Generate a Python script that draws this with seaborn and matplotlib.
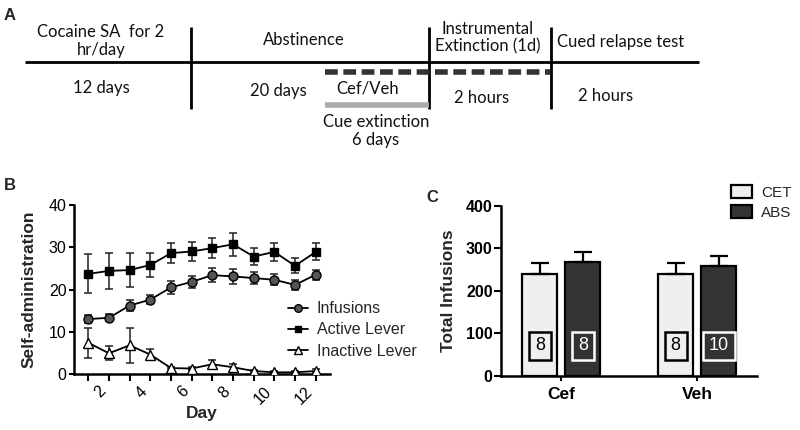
import matplotlib
matplotlib.use("Agg")
import matplotlib.pyplot as plt
import seaborn as sns
import pandas as pd
from matplotlib.lines import Line2D
from matplotlib.patches import Patch

sns.set_theme(style="ticks")
plt.rcParams['font.family'] = ['Liberation Sans', 'DejaVu Sans']

# ---------------- data ----------------
# Panel A: timeline texts
timeline_texts = ["Cocaine SA  for 2\nhr/day", "12 days", "Abstinence", "20 days",
                  "Cef/Veh", "Cue extinction\n6 days", "Instrumental\nExtinction (1d)",
                  "2 hours", "Cued relapse test", "2 hours"]

# Panel B: self-administration
days = list(range(1, 13))
infusions = [13.0, 13.3, 16.2, 17.6, 20.5, 21.8, 23.4, 23.1, 22.7, 22.3, 21.1, 23.5]
infusions_sem = [0.9, 0.8, 1.2, 1.1, 1.6, 1.5, 1.7, 1.7, 1.5, 1.3, 1.1, 1.2]
active = [23.7, 24.4, 24.6, 25.8, 28.6, 29.0, 29.8, 30.7, 27.8, 28.9, 25.6, 28.9]
active_sem = [4.6, 4.3, 4.1, 2.8, 2.4, 2.2, 2.35, 2.7, 2.1, 2.2, 1.8, 2.0]
inactive = [7.4, 4.9, 6.8, 4.6, 1.4, 1.3, 2.3, 1.6, 0.7, 0.4, 0.4, 0.7]
inactive_sem = [3.5, 1.7, 4.1, 1.3, 0.3, 0.3, 1.1, 0.7, 0.3, 0.2, 0.2, 0.4]
series_names = ["Infusions", "Active Lever", "Inactive Lever"]
day_ticks = [2, 4, 6, 8, 10, 12]
yticks_b = [0, 10, 20, 30, 40]

# Panel C: total infusions
groups = ["Cef", "Veh"]
conditions = ["CET", "ABS"]
cet_total = [239, 239]
abs_total = [268, 259]
cet_sem = [26, 26]
abs_sem = [24, 22]
cet_n = [8, 8]
abs_n = [8, 10]
yticks_c = [0, 100, 200, 300, 400]

# ---------------- figure ----------------
fig = plt.figure(figsize=(8, 4.3), dpi=100)

# ---- Panel A: schematic in pixel coordinates ----
axa = fig.add_axes([0, 0, 1, 1])
axa.set_xlim(0, 800)
axa.set_ylim(430, 0)
axa.set_axis_off()
axa.patch.set_visible(False)

fa = dict(family=['Lato', 'DejaVu Sans'], fontsize=12, color='#111111', ha='center', va='center')
axa.plot([25, 699], [62, 62], color='black', lw=2, solid_capstyle='butt')
for xv in [191, 429, 551]:
    axa.plot([xv, xv], [27, 109], color='black', lw=2, solid_capstyle='butt')
axa.plot([325, 550], [72, 72], color='#333333', lw=4, dashes=(2.3, 1.0), solid_capstyle='butt')
axa.plot([325, 429], [105, 105], color='#aaaaaa', lw=4, solid_capstyle='butt')
text_pos = [(101, 41), (101, 88), (304, 40), (278, 91), (368, 88), (376, 131),
            (488, 38), (482, 98), (621, 42), (606, 96)]
for t, (xp, yp) in zip(timeline_texts, text_pos):
    axa.text(xp, yp, t, linespacing=1.1, **fa)
axa.text(4, 16, "A", fontsize=12, fontweight='bold', ha='left', va='center',
         family=['Liberation Sans', 'DejaVu Sans'])
axa.text(4, 186, "B", fontsize=12, fontweight='bold', ha='left', va='center')
axa.text(426, 198, "C", fontsize=12, fontweight='bold', ha='left', va='center')

# ---- Panel B ----
axb = fig.add_axes([74 / 800, 56 / 430, 256 / 800, 169 / 430])
series = [
    (infusions, infusions_sem, 'o', '#555555', 6.5),
    (active, active_sem, 's', 'black', 5.5),
    (inactive, inactive_sem, '^', 'white', 6.5),
]
handles = []
for (vals, sem, mk, fc, ms), name in zip(series, series_names):
    df = pd.DataFrame({"day": days, "value": vals})
    axb.errorbar(days, vals, yerr=sem, fmt='none', ecolor='#222222', elinewidth=1.1,
                 capsize=3, capthick=1.1, zorder=2)
    sns.lineplot(data=df, x="day", y="value", ax=axb, color='black', lw=1.3,
                 marker=mk, markersize=ms, markerfacecolor=fc, markeredgecolor='black',
                 markeredgewidth=1.0, zorder=3, legend=False)
    handles.append(Line2D([], [], color='black', lw=1.3, marker=mk, markersize=ms - 1,
                          markerfacecolor=fc, markeredgecolor='black', markeredgewidth=1.0))
axb.set_xlim(0.31, 12.69)
axb.set_ylim(0, 40)
axb.set_xticks(days)
axb.set_xticklabels([str(d) if d in day_ticks else "" for d in days], rotation=45, ha='right')
axb.set_yticks(yticks_b)
axb.tick_params(axis='y', labelsize=11.5, length=3.8, width=1.5, pad=1.5, colors='black')
axb.tick_params(axis='x', labelsize=11.5, length=5, width=1.5, pad=2, colors='black')
for s in ['top', 'right']:
    axb.spines[s].set_visible(False)
for s in ['left', 'bottom']:
    axb.spines[s].set_linewidth(1.8)
    axb.spines[s].set_color('black')
axb.set_xlabel("Day", fontsize=12.5, fontweight='bold')
axb.set_ylabel("Self-administration", fontsize=12.5, fontweight='bold')
axb.xaxis.set_label_coords(0.5, -0.19)
axb.yaxis.set_label_coords(-0.145, 0.5)
fig.legend(handles, series_names, loc='center left', bbox_to_anchor=(288 / 800, 1 - 330 / 430),
           frameon=False, fontsize=11.5, handlelength=1.25, handletextpad=0.55,
           labelspacing=0.4, borderpad=0, borderaxespad=0)

# ---- Panel C ----
axc = fig.add_axes([501.5 / 800, 54.5 / 430, 255.5 / 800, 169.5 / 430])
dfc = pd.DataFrame({
    "group": groups * 2,
    "condition": [conditions[0]] * 2 + [conditions[1]] * 2,
    "total": cet_total + abs_total,
})
pal = {"CET": "#efefef", "ABS": "#333333"}
sns.barplot(data=dfc, x="group", y="total", hue="condition", hue_order=conditions,
            palette=pal, edgecolor='black', linewidth=1.6, width=0.632, gap=0.19,
            ax=axc, legend=False, errorbar=None, saturation=1)
sems = [cet_sem, abs_sem]
ns = [cet_n, abs_n]
bar_containers = list(axc.containers)
for ci, container in enumerate(bar_containers):
    for bar, err, n in zip(container, sems[ci], ns[ci]):
        xc = bar.get_x() + bar.get_width() / 2
        h = bar.get_height()
        axc.errorbar([xc], [h], yerr=[[0], [err]], fmt='none', ecolor='black',
                     elinewidth=1.6, capsize=6.5, capthick=1.6, zorder=1)
        ec = 'black' if ci == 0 else 'white'
        tc = 'black' if ci == 0 else 'white'
        axc.text(xc, 70, str(n), ha='center', va='center', fontsize=13, color=tc,
                 bbox=dict(boxstyle='square,pad=0.32', fc=pal[conditions[ci]], ec=ec, lw=1.8))
axc.set_xlim(-0.44, 1.44)
axc.set_ylim(0, 400)
axc.set_yticks(yticks_c)
axc.tick_params(axis='y', labelsize=11.5, length=4.8, width=1.5, pad=1.5, colors='black')
axc.tick_params(axis='x', labelsize=12.5, length=3.5, width=1.5, pad=4.5, colors='black')
for lab in axc.get_xticklabels() + axc.get_yticklabels():
    lab.set_fontweight('bold')
for s in ['top', 'right']:
    axc.spines[s].set_visible(False)
for s in ['left', 'bottom']:
    axc.spines[s].set_linewidth(1.8)
    axc.spines[s].set_color('black')
axc.set_xlabel("")
axc.set_ylabel("Total Infusions", fontsize=12.5, fontweight='bold')
axc.yaxis.set_label_coords(-0.178, 0.5)
leg_handles = [Patch(facecolor=pal[c], edgecolor='black', lw=1.6) for c in conditions]
fig.legend(leg_handles, conditions, loc='upper left', bbox_to_anchor=(731 / 800, 1 - 185 / 430),
           frameon=False, fontsize=11, handlelength=1.35, handleheight=0.9, handletextpad=0.6,
           labelspacing=0.35, borderpad=0, borderaxespad=0)

fig.savefig("out.png", dpi=100)
